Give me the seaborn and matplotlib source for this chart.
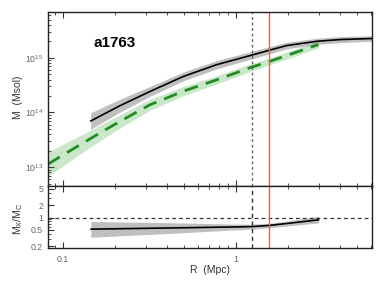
import numpy as np
import pandas as pd
import matplotlib
matplotlib.use("Agg")
import matplotlib.pyplot as plt
import matplotlib.ticker as mticker
import seaborn as sns

# ---- data ----
r_x = [0.1446, 0.2136, 0.318, 0.496, 0.773, 1.205, 1.545, 1.964, 2.93, 3.99, 6.09]
m_x = [6.97e13, 1.33e14, 2.42e14, 4.56e14, 7.5e14, 1.10e15, 1.37e15, 1.68e15, 2.01e15, 2.16e15, 2.26e15]
m_x_lo = [4.93e13, 1.01e14, 1.97e14, 3.79e14, 6.31e14, 9.36e14, 1.18e15, 1.46e15, 1.77e15, 1.90e15, 2.01e15]
m_x_hi = [9.85e13, 1.75e14, 2.98e14, 5.48e14, 8.92e14, 1.29e15, 1.59e15, 1.93e15, 2.28e15, 2.45e15, 2.54e15]

r_c = [0.0819, 0.1073, 0.134, 0.160, 0.195, 0.239, 0.318, 0.496, 0.773, 1.205, 1.545, 2.99]
m_c = [1.13e13, 1.90e13, 2.89e13, 4.03e13, 5.81e13, 8.36e13, 1.38e14, 2.45e14, 3.95e14, 6.6e14, 8.5e14, 1.75e15]
m_c_lo = [6.81e12, 1.227e13, 2.0e13, 2.89e13, 4.31e13, 6.42e13, 1.096e14, 2.015e14, 3.32e14, 5.62e14, 7.32e14, 1.524e15]
m_c_hi = [1.876e13, 2.94e13, 4.18e13, 5.63e13, 7.84e13, 1.089e14, 1.737e14, 2.98e14, 4.70e14, 7.76e14, 9.87e14, 2.01e15]

r_ratio = [0.145, 0.47, 1.0, 1.23, 1.55, 2.05, 3.0]
ratio = [0.52, 0.56, 0.59, 0.60, 0.64, 0.73, 0.88]
ratio_lo = [0.33, 0.42, 0.50, 0.52, 0.56, 0.63, 0.74]
ratio_hi = [0.80, 0.74, 0.69, 0.69, 0.72, 0.84, 1.08]

r_dotted = 1.23
r_red = 1.55
cluster = "a1763"

# ---- figure ----
sns.set_theme(style="ticks")
plt.rcParams['font.family'] = ['Liberation Sans', 'DejaVu Sans']
plt.rcParams['mathtext.fontset'] = 'custom'
plt.rcParams['mathtext.rm'] = 'Liberation Sans'
plt.rcParams['mathtext.it'] = 'Liberation Sans'

fig = plt.figure(figsize=(3.85, 2.89), dpi=100)
ax1 = fig.add_axes([0.1247, 0.3564, 0.8416, 0.602])
ax2 = fig.add_axes([0.1247, 0.1419, 0.8416, 0.2145], sharex=ax1)

# top panel
ax1.fill_between(r_c, m_c_lo, m_c_hi, color="#2ca02c", alpha=0.25, lw=0)
ax1.fill_between(r_x, m_x_lo, m_x_hi, color="#808080", alpha=0.5, lw=0)
df_x = pd.DataFrame({"R": r_x, "M": m_x})
df_c = pd.DataFrame({"R": r_c, "M": m_c})
sns.lineplot(data=df_x, x="R", y="M", ax=ax1, color="black", lw=1.2)
sns.lineplot(data=df_c, x="R", y="M", ax=ax1, color="#228b22", lw=2.0)
ax1.lines[-1].set_dashes([5, 3])
ax1.axvline(r_dotted, color="#666666", lw=1.0, ls=(0, (2, 2)))
ax1.axvline(r_red, color="#ff5555", lw=1.0)

ax1.set_xscale("log")
ax1.set_yscale("log")
ax1.set_xlim(0.082, 6.1)
ax1.set_ylim(4.5e12, 6.9e15)
ax1.set_xlabel("")
ax1.set_ylabel("M  (Msol)", fontsize=7.5, color="#333333")
ax1.yaxis.set_label_coords(-0.078, 0.509)
ax1.text(0.14, 0.82, cluster, transform=ax1.transAxes, fontsize=11,
         fontweight="bold", va="center", ha="left", color="black")
ax1.tick_params(axis="x", which="both", labelbottom=False, direction="in")
ax1.set_yticks([1e13, 1e14, 1e15])

# bottom panel
ax2.fill_between(r_ratio, ratio_lo, ratio_hi, color="#808080", alpha=0.5, lw=0)
df_r = pd.DataFrame({"R": r_ratio, "ratio": ratio})
sns.lineplot(data=df_r, x="R", y="ratio", ax=ax2, color="black", lw=1.2)
ax2.axhline(1.0, color="#333333", lw=0.9, ls=(0, (3, 2.5)))
ax2.axvline(r_dotted, color="#333333", lw=1.0, ls=(0, (3, 2.5)))
ax2.axvline(r_red, color="#ff5555", lw=1.0)
ax2.set_yscale("log")
ax2.set_ylim(0.18, 5.9)
ax2.set_yticks([0.2, 0.5, 1, 2, 5])
ax2.yaxis.set_major_formatter(mticker.FuncFormatter(lambda v, p: f"{v:g}"))
ax2.yaxis.set_minor_formatter(mticker.NullFormatter())
ax2.set_xticks([0.1, 1])
ax2.xaxis.set_major_formatter(mticker.FuncFormatter(lambda v, p: f"{v:g}"))
ax2.xaxis.set_minor_formatter(mticker.NullFormatter())
ax2.set_xlabel("R  (Mpc)", fontsize=7.5, color="#333333")
ax2.xaxis.set_label_coords(0.5, -0.27)
ax2.set_ylabel("M$_X$/M$_C$", fontsize=7.5, color="#333333")
ax2.yaxis.set_label_coords(-0.072, 0.47)

for ax in (ax1, ax2):
    ax.tick_params(which="major", direction="in", length=4, width=0.8,
                   labelsize=6.3, colors="#333333", labelcolor="#666666", top=True)
    ax.tick_params(which="minor", direction="in", length=2, width=0.6,
                   colors="#333333", top=True)
    for s in ax.spines.values():
        s.set_linewidth(1.0)
        s.set_color("#222222")

ax2.tick_params(axis="x", which="major", pad=5)

fig.savefig("out.png", dpi=100)
